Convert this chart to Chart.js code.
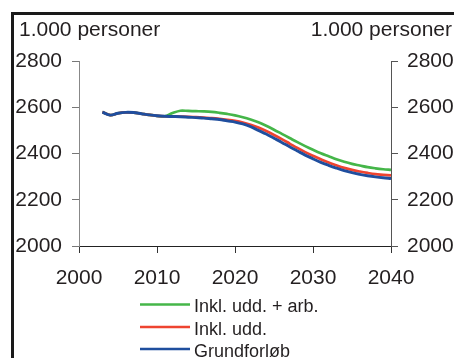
<!DOCTYPE html>
<html>
<head>
<meta charset="utf-8">
<script src="https://cdn.jsdelivr.net/npm/chart.js@4.4.1/dist/chart.umd.min.js"></script>
<style>
  html, body { margin: 0; padding: 0; background: #fff; }
  #wrap { position: relative; width: 454px; height: 358px; }
</style>
</head>
<body>
<div id="wrap"><canvas id="c" width="454" height="358"></canvas></div>
<script>
// Befolkningsfremskrivning, 1.000 personer
const years = [2003,2004,2005,2006,2007,2008,2009,2010,2011,2012,2013,2014,2015,2016,2017,2018,2019,2020,2021,2022,
  2023,2024,2025,2026,2027,2028,2029,2030,2031,2032,2033,2034,2035,2036,2037,2038,2039,2040];

const inklUddArb = [2579,2566,2574,2578,2577,2572,2567,2563,2561,2575,2585,2584,2583,2582,2580,2576,2571,2565,2557,2547,
  2535,2520,2503,2485,2467,2449,2432,2416,2401,2388,2375,2364,2355,2348,2341,2336,2332,2329];

const inklUdd = [2579,2566,2574,2578,2577,2572,2567,2563,2561,2561,2560,2559,2557,2555,2553,2550,2546,2541,2534,2524,
  2512,2497,2480,2462,2443,2424,2406,2390,2375,2361,2349,2338,2329,2322,2316,2311,2308,2305];

const grundforloeb = [2579,2566,2574,2578,2577,2572,2567,2563,2561,2560,2559,2557,2555,2553,2550,2547,2541,2536,2528,2516,
  2500,2484,2466,2448,2429,2411,2393,2377,2362,2349,2337,2326,2317,2310,2304,2299,2295,2292];

const seriesNames = ['Inkl. udd. + arb.', 'Inkl. udd.', 'Grundforløb'];
const seriesColors = ['#45b649', '#ee4430', '#1f4e9e'];
const yTicks = [2000, 2200, 2400, 2600, 2800];
const xTicks = [2000, 2010, 2020, 2030, 2040];
const unitLabel = '1.000 personer';

const FONT = '"Liberation Sans", Arial, Helvetica, sans-serif';

function pts(vals) { return years.map((y, i) => ({ x: y, y: vals[i] })); }

// Frame, unit labels and the legend list below the plot
const decorations = {
  id: 'decorations',
  beforeDraw(chart) {
    const ctx = chart.ctx;
    ctx.save();
    ctx.fillStyle = '#fff';
    ctx.fillRect(0, 0, chart.width, chart.height);
    ctx.fillStyle = '#1a1a1a';
    ctx.fillRect(11, 12, chart.width, 3);
    ctx.fillRect(11, 12, 3, chart.height);
    ctx.restore();
  },
  afterDraw(chart) {
    const ctx = chart.ctx;
    ctx.save();
    ctx.fillStyle = '#231f20';
    ctx.font = '21px ' + FONT;
    ctx.textBaseline = 'alphabetic';
    ctx.textAlign = 'left';
    ctx.fillText(unitLabel, 19, 36);
    ctx.textAlign = 'right';
    ctx.fillText(unitLabel, 452, 36);

    // legend
    ctx.font = '18px ' + FONT;
    ctx.textAlign = 'left';
    const rows = [312, 334.5, 356.5];
    chart.data.datasets.forEach((ds, i) => {
      const yb = rows[i];
      ctx.strokeStyle = ds.borderColor;
      ctx.lineWidth = 2.5;
      ctx.beginPath();
      ctx.moveTo(140, yb - 7.5);
      ctx.lineTo(190, yb - 7.5);
      ctx.stroke();
      ctx.fillStyle = '#231f20';
      ctx.fillText(ds.label, 194, yb);
    });
    ctx.restore();
  }
};

const axisColor = '#555';

new Chart(document.getElementById('c'), {
  type: 'line',
  data: {
    datasets: [
      { label: seriesNames[0], data: pts(inklUddArb), borderColor: seriesColors[0], borderWidth: 2.7, order: 3 },
      { label: seriesNames[1], data: pts(inklUdd), borderColor: seriesColors[1], borderWidth: 2.7, order: 2 },
      { label: seriesNames[2], data: pts(grundforloeb), borderColor: seriesColors[2], borderWidth: 2.9, order: 1 }
    ].map(d => Object.assign(d, { pointRadius: 0, fill: false, tension: 0.35, yAxisID: 'y' }))
  },
  options: {
    responsive: false,
    animation: false,
    events: [],
    layout: { padding: { top: 61, left: 0, right: 0, bottom: 0 } },
    plugins: { legend: { display: false }, tooltip: { enabled: false }, title: { display: false } },
    scales: {
      x: {
        type: 'linear',
        min: 2000, max: 2040,
        afterBuildTicks: s => { s.ticks = xTicks.map(v => ({ value: v })); },
        afterFit: s => { s.height = 112; },
        grid: { drawOnChartArea: false, drawTicks: true, tickLength: 7, color: '#333' },
        border: { display: true, color: '#222', width: 1 },
        ticks: { color: '#231f20', font: { family: FONT, size: 21 }, padding: 13, maxRotation: 0, callback: v => String(v) }
      },
      y: {
        position: 'left',
        min: 2000, max: 2800,
        afterBuildTicks: s => { s.ticks = yTicks.map(v => ({ value: v })); },
        afterFit: s => { s.width = 79; },
        grid: { drawOnChartArea: false, drawTicks: true, tickLength: 7, color: '#777' },
        border: { display: true, color: '#888', width: 1 },
        ticks: { color: '#231f20', font: { family: FONT, size: 21 }, padding: 10, callback: v => String(v) }
      },
      y2: {
        position: 'right',
        min: 2000, max: 2800,
        afterBuildTicks: s => { s.ticks = yTicks.map(v => ({ value: v })); },
        afterFit: s => { s.width = 63; },
        grid: { drawOnChartArea: false, drawTicks: true, tickLength: 7, color: axisColor },
        border: { display: true, color: axisColor, width: 1 },
        ticks: { color: '#231f20', font: { family: FONT, size: 21 }, padding: 9, callback: v => String(v) }
      }
    }
  },
  plugins: [decorations]
});
</script>
</body>
</html>
